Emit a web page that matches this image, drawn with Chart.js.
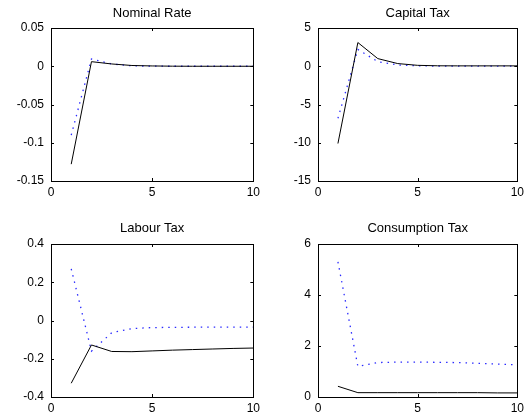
<!DOCTYPE html>
<html lang="en">
<head>
    <meta charset="UTF-8">
    <title>Impulse responses</title>
    <style>
        body {
            margin: 0;
            background: #fff;
            font-family: "Liberation Sans", Arial, sans-serif;
        }
        .panel {
            position: absolute;
        }
    </style>
</head>
<body>
    <div class="panel" style="left:0;top:0;width:264px;height:210px"><canvas id="nominal"></canvas></div>
    <div class="panel" style="left:264px;top:0;width:264px;height:210px"><canvas id="capital"></canvas></div>
    <div class="panel" style="left:0;top:210px;width:264px;height:209px"><canvas id="labour"></canvas></div>
    <div class="panel" style="left:264px;top:210px;width:264px;height:209px"><canvas id="consumption"></canvas></div>

    <script src="https://cdn.jsdelivr.net/npm/chart.js"></script>
    <script>
// periods on the x axis
const periods = [1, 2, 3, 4, 5, 6, 7, 8, 9, 10];

// solid black line / dotted blue line per panel
const nominalSolid  = [-0.128, 0.006, 0.003, 0.001, 0.0004, 0.0001, 0, 0, 0, 0];
const nominalDotted = [-0.09, 0.0095, 0.003, 0.0006, 0.0001, 0, 0, 0, 0, 0];

const capitalSolid  = [-10.1, 3.1, 1.0, 0.35, 0.12, 0.06, 0.05, 0.05, 0.05, 0.05];
const capitalDotted = [-6.8, 2.2, 0.6, 0.16, 0.05, 0.02, 0.01, 0.01, 0.01, 0.01];

const labourSolid  = [-0.328, -0.128, -0.162, -0.163, -0.159, -0.155, -0.152, -0.149, -0.146, -0.144];
const labourDotted = [0.27, -0.16, -0.064, -0.042, -0.037, -0.036, -0.035, -0.035, -0.035, -0.035];

const consumptionSolid  = [0.42, 0.17, 0.17, 0.17, 0.17, 0.17, 0.17, 0.17, 0.16, 0.16];
const consumptionDotted = [5.3, 1.2, 1.35, 1.37, 1.37, 1.36, 1.35, 1.32, 1.29, 1.26];

// y tick ranges
const nominalTicks = { min: -0.15, max: 0.05, step: 0.05 };
const capitalTicks = { min: -15, max: 5, step: 5 };
const labourTicks = { min: -0.4, max: 0.4, step: 0.2 };
const consumptionTicks = { min: 0, max: 6, step: 2 };
const xTicks = { min: 0, max: 10, step: 5 };

const FONT = '"Liberation Sans", Arial, sans-serif';

// title over the plot centre, box round the plot, inward ticks on all four sides
const boxPlugin = {
    id: 'box',
    afterDraw(chart, args, opts) {
        const { ctx, chartArea: a, scales } = chart;
        const len = 3;
        ctx.save();
        ctx.strokeStyle = '#000';
        ctx.lineWidth = 1;
        ctx.beginPath();
        scales.x.ticks.forEach(t => {
            const px = Math.round(scales.x.getPixelForValue(t.value)) + 0.5;
            ctx.moveTo(px, a.bottom); ctx.lineTo(px, a.bottom - len);
            ctx.moveTo(px, a.top); ctx.lineTo(px, a.top + len);
        });
        scales.y.ticks.forEach(t => {
            const py = Math.round(scales.y.getPixelForValue(t.value)) + 0.5;
            ctx.moveTo(a.left, py); ctx.lineTo(a.left + len, py);
            ctx.moveTo(a.right, py); ctx.lineTo(a.right - len, py);
        });
        ctx.stroke();
        ctx.strokeRect(Math.round(a.left) + 0.5, Math.round(a.top) + 0.5,
            Math.round(a.right - a.left), Math.round(a.bottom - a.top));

        ctx.fillStyle = '#000';
        ctx.font = '13px ' + FONT;
        ctx.textAlign = 'center';
        ctx.textBaseline = 'middle';
        ctx.fillText(opts.text, (a.left + a.right) / 2, opts.y);
        ctx.restore();
    }
};

function fmt(v) {
    return String(Number(v.toFixed(2)));
}

function makePanel(id, title, solid, dotted, yt, geo) {
    new Chart(document.getElementById(id), {
        type: 'line',
        data: {
            datasets: [{
                data: periods.map((p, i) => ({ x: p, y: solid[i] })),
                borderColor: '#000',
                borderWidth: 1,
                pointRadius: 0,
                tension: 0
            }, {
                data: periods.map((p, i) => ({ x: p, y: dotted[i] })),
                borderColor: '#2a2aff',
                borderWidth: 1.3,
                borderDash: [1.5, 5],
                pointRadius: 0,
                tension: 0
            }]
        },
        options: {
            responsive: true,
            maintainAspectRatio: false,
            animation: false,
            layout: { padding: { left: 0, right: geo.right, top: geo.top, bottom: 0 } },
            plugins: {
                legend: { display: false },
                tooltip: { enabled: false },
                title: { display: false },
                box: { text: title, y: geo.titleY }
            },
            scales: {
                x: {
                    type: 'linear',
                    min: xTicks.min,
                    max: xTicks.max,
                    grid: { display: false, drawTicks: false },
                    border: { display: false },
                    ticks: { stepSize: xTicks.step, color: '#000', padding: 4, maxRotation: 0,
                             font: { family: FONT, size: 12 }, callback: fmt },
                    afterFit(s) { s.height = geo.xHeight; }
                },
                y: {
                    min: yt.min,
                    max: yt.max,
                    grid: { display: false, drawTicks: false },
                    border: { display: false },
                    ticks: { stepSize: yt.step, color: '#000', padding: 7,
                             font: { family: FONT, size: 12 }, callback: fmt },
                    afterFit(s) { s.width = geo.yWidth; }
                }
            }
        },
        plugins: [boxPlugin]
    });
}

const topLeft = { right: 9, top: 28, yWidth: 51, xHeight: 29, titleY: 13 };
const topRight = { right: 5, top: 28, yWidth: 54, xHeight: 29, titleY: 13 };
const botLeft = { right: 9, top: 34, yWidth: 51, xHeight: 22, titleY: 18 };
const botRight = { right: 5, top: 34, yWidth: 54, xHeight: 22, titleY: 18 };

makePanel('nominal', 'Nominal Rate', nominalSolid, nominalDotted, nominalTicks, topLeft);
makePanel('capital', 'Capital Tax', capitalSolid, capitalDotted, capitalTicks, topRight);
makePanel('labour', 'Labour Tax', labourSolid, labourDotted, labourTicks, botLeft);
makePanel('consumption', 'Consumption Tax', consumptionSolid, consumptionDotted, consumptionTicks, botRight);
    </script>
</body>
</html>
